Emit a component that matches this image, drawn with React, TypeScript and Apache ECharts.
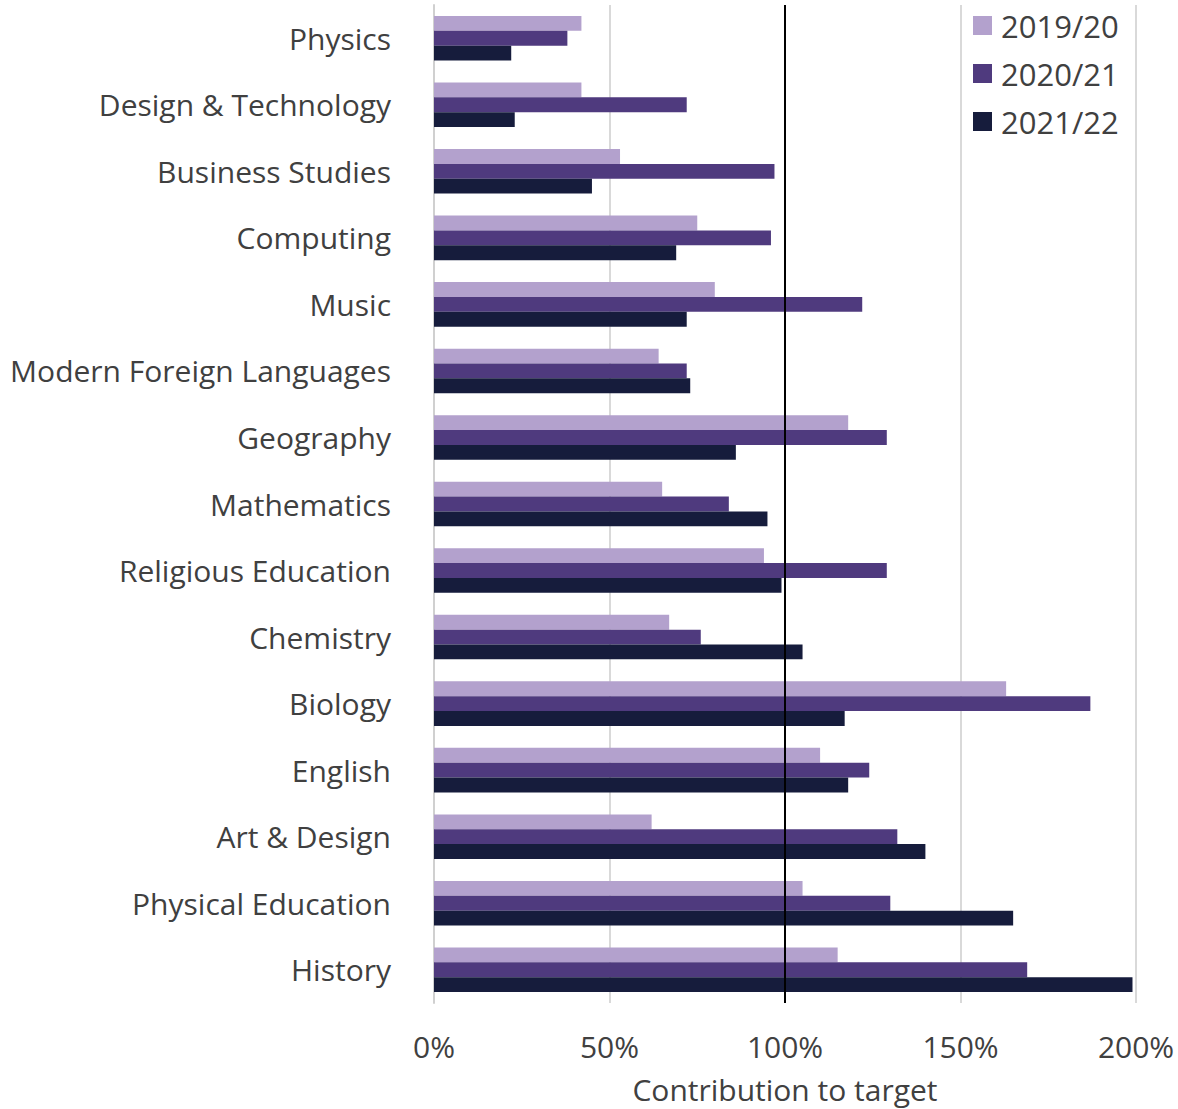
import React, { useEffect, useRef } from "react";
import * as echarts from "echarts";

const categories = [
  "Physics",
  "Design & Technology",
  "Business Studies",
  "Computing",
  "Music",
  "Modern Foreign Languages",
  "Geography",
  "Mathematics",
  "Religious Education",
  "Chemistry",
  "Biology",
  "English",
  "Art & Design",
  "Physical Education",
  "History",
];

const s2019 = [42, 42, 53, 75, 80, 64, 118, 65, 94, 67, 163, 110, 62, 105, 115];
const s2020 = [38, 72, 97, 96, 122, 72, 129, 84, 129, 76, 187, 124, 132, 130, 169];
const s2021 = [22, 23, 45, 69, 72, 73, 86, 95, 99, 105, 117, 118, 140, 165, 199];

const seriesNames = ["2019/20", "2020/21", "2021/22"];
const colors = ["#b3a1cd", "#4f3a7e", "#161c3c"];
const xTicks = [0, 50, 100, 150, 200];

const FONT = "Open Sans";
const TEXT = "#404040";

export default function App() {
  const ref = useRef<HTMLDivElement>(null);
  useEffect(() => {
    if (!ref.current) return;
    const chart = echarts.init(ref.current, undefined, { renderer: "svg" });
    const data = [s2019, s2020, s2021];
    chart.setOption({
      animation: false,
      textStyle: { fontFamily: FONT },
      color: colors,
      legend: {
        orient: "vertical",
        left: 968,
        top: 5,
        itemWidth: 19,
        itemHeight: 19,
        itemGap: 17,
        icon: "rect",
        textStyle: { fontSize: 31, color: TEXT, fontFamily: FONT, padding: [0, 0, 0, 4] },
        data: seriesNames,
      },
      grid: { left: 434, right: 42, top: 5, bottom: 106, containLabel: false },
      xAxis: {
        type: "value",
        min: 0,
        max: 200,
        interval: 50,
        name: "Contribution to target",
        nameLocation: "middle",
        nameGap: 71,
        nameTextStyle: { fontSize: 30, color: TEXT, fontFamily: FONT },
        axisLabel: {
          formatter: (v: number) => (xTicks.includes(v) ? v + "%" : ""),
          fontSize: 30,
          color: TEXT,
          margin: 28,
          fontFamily: FONT,
        },
        splitLine: { show: true, lineStyle: { color: "#d9d9d9", width: 2 } },
        axisLine: { show: false },
        axisTick: { show: false },
      },
      yAxis: {
        type: "category",
        data: categories,
        inverse: true,
        axisLabel: {
          fontSize: 30,
          color: TEXT,
          margin: 43,
          fontFamily: FONT,
          padding: [0, 0, 4, 0],
        },
        axisLine: { show: true, lineStyle: { color: "#d0d0d0", width: 2 } },
        axisTick: { show: false },
      },
      series: seriesNames.map((name, i) => ({
        name,
        type: "bar",
        data: data[i],
        barGap: "0%",
        barCategoryGap: "33%",
        itemStyle: { color: colors[i] },
        markLine:
          i === 0
            ? {
                silent: true,
                symbol: "none",
                label: { show: false },
                lineStyle: { color: "#000", width: 2, type: "solid" },
                data: [{ xAxis: 100 }],
              }
            : undefined,
        z: 2,
      })),
    });
    return () => chart.dispose();
  }, []);
  return (
    <div
      ref={ref}
      style={{ position: "absolute", left: 0, top: 0, width: 1178, height: 1109 }}
    />
  );
}
